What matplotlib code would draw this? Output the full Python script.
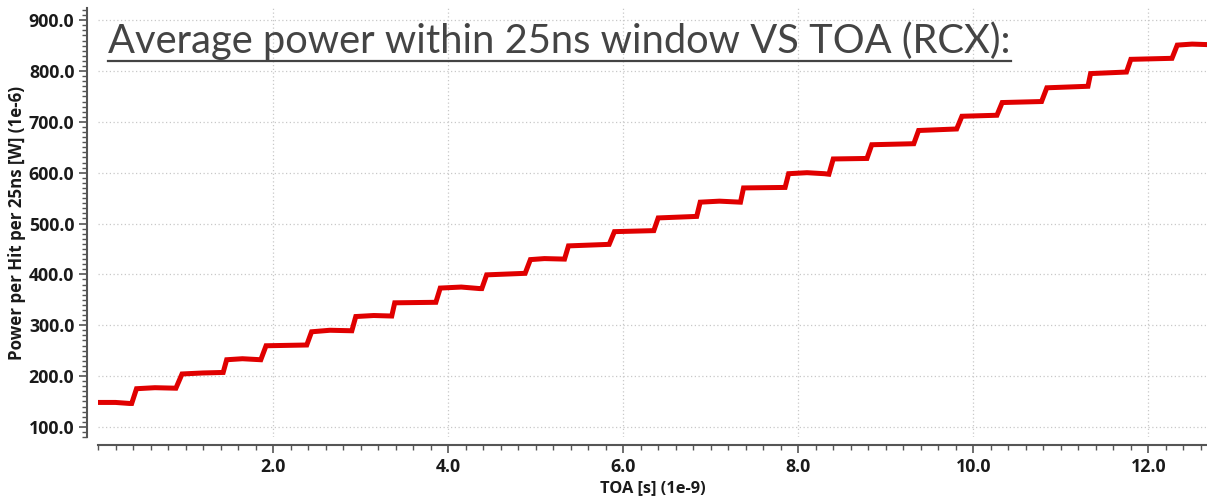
import matplotlib
matplotlib.use("Agg")
import matplotlib.pyplot as plt
from matplotlib.ticker import MultipleLocator, FormatStrFormatter
from matplotlib.lines import Line2D

# ---- data ----
toa = [0.00, 0.20, 0.36, 0.385, 0.44, 0.65, 0.89, 0.96, 1.20, 1.43, 1.47, 1.65, 1.86,
       1.92, 2.385, 2.44, 2.65, 2.90, 2.945, 3.15, 3.356, 3.39, 3.86, 3.91, 4.15, 4.36, 4.385,
       4.44, 4.88, 4.94, 5.10, 5.33, 5.375, 5.84, 5.90, 6.35, 6.40, 6.84, 6.88, 7.10, 7.34,
       7.375, 7.85, 7.89, 8.10, 8.30, 8.35, 8.40, 8.785, 8.84, 9.32, 9.375, 9.81, 9.87, 10.27,
       10.33, 10.78, 10.84, 11.31, 11.34, 11.75, 11.80, 12.27, 12.33, 12.50, 12.67]
power = [148, 148, 146, 146, 175, 177, 176, 204, 206, 207, 232, 234, 232,
         259.5, 261, 287, 290, 289, 317, 319, 318, 344, 345, 373, 375, 372, 372,
         399, 402, 429, 431, 430, 456, 459, 484, 486, 511, 514, 542, 544, 542,
         570, 571, 598, 600, 598, 597, 627, 628, 655, 657, 683, 686, 711, 713,
         738, 740, 767, 770, 795, 798, 823, 825, 851, 853, 852]

title_text = "Average power within 25ns window VS TOA (RCX):"
x_label = "TOA [s] (1e-9)"
y_label = "Power per Hit per 25ns [W] (1e-6)"
x_major = [2.0, 4.0, 6.0, 8.0, 10.0, 12.0]
y_major = [100.0, 200.0, 300.0, 400.0, 500.0, 600.0, 700.0, 800.0, 900.0]

W, H, DPI = 1207, 497, 100
fig = plt.figure(figsize=(W / DPI, H / DPI), dpi=DPI)
ax = fig.add_axes([98 / W, 1 - 437 / H, 1 - 98 / W, (437 - 8) / H])

ax.plot(toa, power, color="#e00000", lw=3.6, solid_joinstyle="miter", zorder=3)

ax.set_xlim(0, 12.67)
ax.set_ylim(80, 924)

ax.set_xticks(x_major)
ax.set_yticks(y_major)
ax.xaxis.set_minor_locator(MultipleLocator(0.2))
ax.yaxis.set_minor_locator(MultipleLocator(10))
ax.xaxis.set_major_formatter(FormatStrFormatter("%.1f"))
ax.yaxis.set_major_formatter(FormatStrFormatter("%.1f"))

ax.grid(True, which="major", color="#c8c8c8", linestyle=(0, (1, 2)), linewidth=0.9)
ax.set_axisbelow(True)

for s in ["top", "right"]:
    ax.spines[s].set_visible(False)
ax.spines["left"].set_position(("outward", 8))
ax.spines["bottom"].set_position(("outward", 6))
for s in ["left", "bottom"]:
    ax.spines[s].set_color("#555555")
    ax.spines[s].set_linewidth(1.5)

ax.tick_params(axis="both", which="major", direction="out", length=6, width=1.2,
               color="#555555", labelcolor="#1a1a1a", pad=3)
ax.tick_params(axis="both", which="minor", direction="out", length=3.5, width=1.0,
               color="#555555")
for lab in ax.get_xticklabels() + ax.get_yticklabels():
    lab.set_fontfamily("Open Sans")
    lab.set_fontweight("bold")
    lab.set_fontsize(12.8)

ax.set_xlabel(x_label, fontfamily="Open Sans", fontweight="bold", fontsize=11.8,
              color="#1a1a1a", labelpad=3)
ax.set_ylabel(y_label, fontfamily="Open Sans", fontweight="bold", fontsize=12.2,
              color="#1a1a1a", labelpad=2)

t = fig.text(108 / W, 1 - 53 / H, title_text, fontfamily="Lato", fontsize=28.7,
             color="#444444", ha="left", va="baseline")
fig.canvas.draw()
bb = t.get_window_extent()
uy = (H - 61) / H
fig.add_artist(Line2D([bb.x0 / W, bb.x1 / W], [uy, uy], transform=fig.transFigure,
                      color="#444444", lw=1.6))

fig.savefig("out.png", dpi=DPI)
